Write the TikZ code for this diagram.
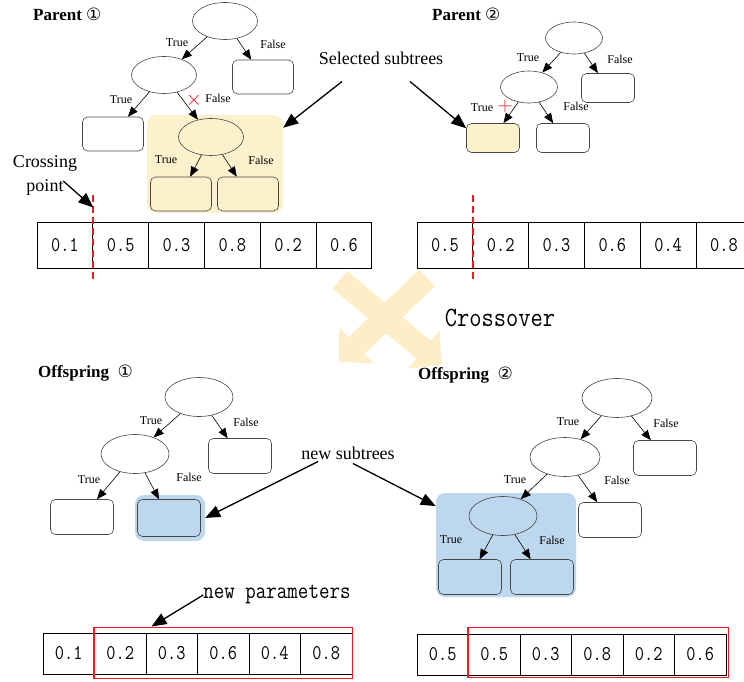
\documentclass[tikz,border=0pt]{standalone}
\usepackage{fontspec}
\setmainfont{Liberation Serif}
\newfontfamily\numfont[FakeStretch=0.85]{Latin Modern Mono}
\newfontfamily\circfont{DejaVu Sans}
\usetikzlibrary{shapes.geometric,arrows.meta}

\definecolor{selyellow}{RGB}{253,240,205}
\definecolor{newblue}{RGB}{189,215,238}
\definecolor{crossyellow}{RGB}{253,238,200}
\definecolor{cutred}{RGB}{235,30,35}
\definecolor{shapegray}{RGB}{70,70,70}

\tikzset{
  cond/.style={draw=shapegray, ellipse, line width=0.6pt, minimum width=65pt, minimum height=37pt, inner sep=0pt},
  leaf/.style={draw=shapegray, rounded corners=5pt, line width=0.6pt, minimum width=61pt, minimum height=34pt, inner sep=0pt},
  dtedge/.style={-{Triangle[length=10pt,width=8pt]}, line width=0.6pt},
  lbl/.style={font=\fontsize{12}{13}\selectfont, inner sep=0pt},
  title/.style={font=\fontsize{17}{20}\selectfont\bfseries, inner sep=0pt, anchor=west},
  note/.style={font=\fontsize{18}{24}\selectfont, inner sep=0pt},
  callout/.style={-{Triangle[length=15pt,width=12pt]}, line width=1.3pt},
  hilite/.style={rounded corners=9pt, inner sep=0pt},
  cell/.style={draw, line width=1pt, minimum width=55.8pt, minimum height=46pt, inner sep=0pt, font=\numfont\fontsize{21}{21}\selectfont},
  ocell/.style={cell, minimum width=51.5pt, minimum height=41pt},
  cutline/.style={draw=cutred, line width=1.8pt, dash pattern=on 7pt off 4pt},
  newbox/.style={draw=cutred, line width=1.2pt},
  cutmark/.style={text=cutred, font=\fontsize{21}{21}\selectfont, inner sep=0pt},
  bigx/.style={draw=crossyellow, fill=crossyellow, line width=23pt, -{Triangle[length=24pt,width=48pt]}}
}

\begin{document}
\begin{tikzpicture}[x=1pt,y=-1pt]
\useasboundingbox (0,0) rectangle (744,682);

% crossover sign
\draw[bigx] (340,280) -- (442,365);
\draw[bigx] (427,278) -- (339,362);
\node[font=\numfont\fontsize{28}{28}\selectfont, inner sep=0pt] (xo) at (500,318) {Crossover};

% parent 1
\node[title] (t1) at (33,14) {Parent {\mdseries\circfont ①}};
\node[hilite, fill=selyellow, minimum width=136pt, minimum height=98pt] (p1sel) at (215,164) {};
\node[cond] (p1root) at (225,21) {};
\node[cond] (p1l) at (164,75) {};
\node[leaf] (p1r) at (263,77) {};
\node[leaf] (p1ll) at (113,134) {};
\node[cond] (p1s) at (211,137) {};
\node[leaf] (p1sl) at (181,194) {};
\node[leaf] (p1sr) at (248,194) {};
\draw[dtedge] (p1root) -- (p1l);
\draw[dtedge] (p1root) -- (p1r);
\draw[dtedge] (p1l) -- (p1ll);
\draw[dtedge] (p1l) -- (p1s);
\draw[dtedge] (p1s) -- (p1sl);
\draw[dtedge] (p1s) -- (p1sr);
\node[lbl] (p1a) at (177,43) {True};
\node[lbl] (p1b) at (273,44) {False};
\node[lbl] (p1c) at (121,100) {True};
\node[lbl] (p1d) at (218,98) {False};
\node[lbl] (p1e) at (166,160) {True};
\node[lbl] (p1f) at (261,160) {False};
\node[cutmark] (p1x) at (194,100) {$\times$};

% parent 2
\begin{scope}[cond/.append style={minimum width=57pt, minimum height=32pt},
  leaf/.append style={minimum width=53pt, minimum height=29pt}]
\node[title] (t2) at (432,14) {Parent {\mdseries\circfont ②}};
\node[cond] (p2root) at (574,38) {};
\node[cond] (p2l) at (529,87) {};
\node[leaf] (p2r) at (608,88) {};
\node[leaf, fill=selyellow] (p2ll) at (493,138) {};
\node[leaf] (p2lr) at (563,138) {};
\draw[dtedge] (p2root) -- (p2l);
\draw[dtedge] (p2root) -- (p2r);
\draw[dtedge] (p2l) -- (p2ll);
\draw[dtedge] (p2l) -- (p2lr);
\node[lbl] (p2a) at (528,58) {True};
\node[lbl] (p2b) at (620,59) {False};
\node[lbl] (p2c) at (482,108) {True};
\node[lbl] (p2d) at (576,106) {False};
\node[cutmark] (p2x) at (505,106) {$+$};
\end{scope}

\node[note] (sel) at (381,58) {Selected subtrees};
\draw[callout] ([xshift=-39pt,yshift=-17pt]sel.south) -- (p1sel.28);
\draw[callout] ([xshift=29pt,yshift=-17pt]sel.south) -- (p2ll.160);

% parent arrays
\foreach \v [count=\i] in {1,5,3,8,2,6}
  \node[cell] (pa\i) at ({64.9+55.8*(\i-1)},245) {0.\v};
\foreach \v [count=\i] in {5,2,3,6,4,8}
  \node[cell] (pb\i) at ({444.9+55.8*(\i-1)},245) {0.\v};
\draw[cutline] ([yshift=27pt]pa1.north east) -- ([yshift=-10pt]pa1.south east);
\draw[cutline] ([yshift=27pt]pb1.north east) -- ([yshift=-10pt]pb1.south east);

\node[note, align=center] (cp) at (45,175) {Crossing\\point};
\draw[callout] ([xshift=-14pt,yshift=-6pt]cp.east) -- ([yshift=14pt]pa1.north east);

% offspring 1
\begin{scope}[cond/.append style={minimum width=68pt, minimum height=39pt},
  leaf/.append style={minimum width=63pt, minimum height=35pt}]
\node[title] (t3) at (38,373) {Offspring\enspace{\mdseries\circfont ①}};
\node[hilite, fill=newblue, minimum width=70pt, minimum height=46pt] (o1sel) at (170,518) {};
\node[cond] (o1root) at (199,397) {};
\node[cond] (o1l) at (135,454) {};
\node[leaf] (o1r) at (240,456) {};
\node[leaf] (o1ll) at (82,517) {};
\node[leaf, minimum height=37pt] (o1lr) at (169,518) {};
\draw[dtedge] (o1root) -- (o1l);
\draw[dtedge] (o1root) -- (o1r);
\draw[dtedge] (o1l) -- (o1ll);
\draw[dtedge] (o1l) -- (o1lr);
\node[lbl] (o1a) at (151,421) {True};
\node[lbl] (o1b) at (246,422) {False};
\node[lbl] (o1c) at (89,480) {True};
\node[lbl] (o1d) at (189,477) {False};

% offspring 2
\node[title] (t4) at (418,375) {Offspring\enspace{\mdseries\circfont ②}};
\node[hilite, fill=newblue, minimum width=140pt, minimum height=104pt] (o2sel) at (506,545) {};
\node[cond, minimum width=70pt] (o2root) at (617,398) {};
\node[cond, minimum width=70pt] (o2l) at (565,457) {};
\node[leaf] (o2r) at (665,458) {};
\node[leaf] (o2lr) at (610,520) {};
\node[cond] (o2s) at (503,516) {};
\node[leaf] (o2sl) at (470,577) {};
\node[leaf] (o2sr) at (542,577) {};
\draw[dtedge] (o2root) -- (o2l);
\draw[dtedge] (o2root) -- (o2r);
\draw[dtedge] (o2l) -- (o2s);
\draw[dtedge] (o2l) -- (o2lr);
\draw[dtedge] (o2s) -- (o2sl);
\draw[dtedge] (o2s) -- (o2sr);
\node[lbl] (o2a) at (568,422) {True};
\node[lbl] (o2b) at (666,423) {False};
\node[lbl] (o2c) at (515,480) {True};
\node[lbl] (o2d) at (617,480) {False};
\node[lbl] (o2e) at (451,540) {True};
\node[lbl] (o2f) at (552,540) {False};
\end{scope}

\node[note] (ns) at (348,453) {new subtrees};
\draw[callout] ([xshift=-30pt,yshift=-2pt]ns.south) -- (o1sel.east);
\draw[callout] ([xshift=5pt,yshift=-4pt]ns.south) -- (o2sel.151);

% offspring arrays
\foreach \v [count=\i] in {1,2,3,6,4,8}
  \node[ocell] (oa\i) at ({68.75+51.5*(\i-1)},653.5) {0.\v};
\foreach \v [count=\i] in {5,5,3,8,2,6}
  \node[ocell] (ob\i) at ({442.75+51.5*(\i-1)},654.5) {0.\v};
\draw[newbox] ([yshift=5pt]oa2.north west) rectangle ([yshift=-4pt]oa6.south east);
\draw[newbox] ([yshift=6pt]ob2.north west) rectangle ([xshift=2pt,yshift=-2pt]ob6.south east);

\node[font=\numfont\fontsize{24}{24}\selectfont, inner sep=0pt] (np) at (277,595) {new parameters};
\draw[callout] (np.west) -- ([xshift=6pt,yshift=6pt]oa3.north west);
\end{tikzpicture}
\end{document}
